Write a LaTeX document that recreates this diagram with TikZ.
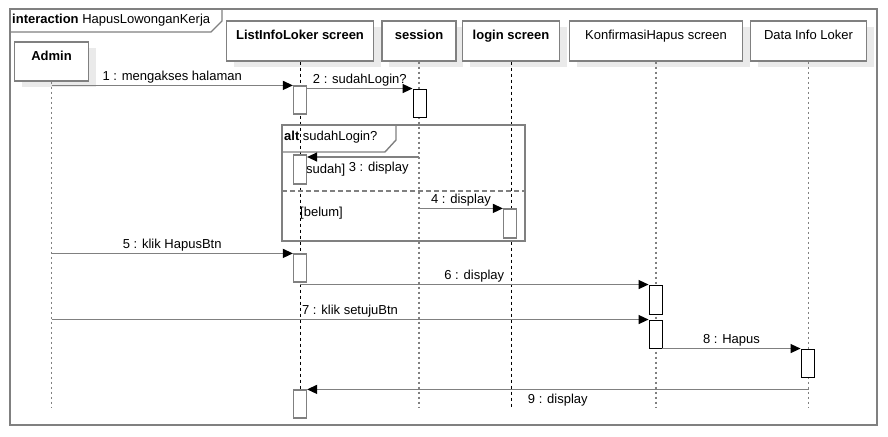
\documentclass[tikz,border=0pt]{standalone}
\usepackage{fontspec}
\setmainfont{Liberation Sans}
\usetikzlibrary{arrows.meta,shadows,positioning}

\definecolor{umlgray}{RGB}{128,128,128}
\definecolor{umlshadow}{RGB}{234,234,234}
\newcommand{\umlfont}{\fontsize{13}{15}\selectfont}

\tikzset{
	head/.style={draw=umlgray, line width=1.3pt, fill=white, minimum height=40pt,
		text height=10pt, text depth=13pt, inner xsep=0pt, font=\umlfont,
		drop shadow={shadow xshift=7pt, shadow yshift=-6pt, fill=umlshadow, opacity=1}},
	boldhead/.style={head, font=\umlfont\bfseries},
	act/.style={draw=umlgray, line width=1.2pt, fill=white, minimum width=13pt, inner sep=0pt},
	actk/.style={act, draw=black, line width=0.9pt},
	msg/.style={draw=umlgray, line width=1.3pt, -{Triangle[length=10pt,width=9pt,color=black]}},
	lifedot/.style={umlgray, line width=1.3pt, dash pattern=on 2.5pt off 2.5pt},
	lifedash/.style={black, line width=0.8pt, dash pattern=on 3pt off 3pt},
	frm/.style={umlgray, line width=1.4pt},
	up/.style={above, inner sep=1.5pt},
	down/.style={below=3pt, inner sep=1.5pt}
}

\begin{document}
\begin{tikzpicture}[x=1pt, y=-1pt, font=\umlfont]
		\useasboundingbox (0,0) rectangle (888,436);
		% frame
		\draw[frm] (10,9) rectangle (877,425);
		\draw[frm] (10,32) -- (211,32) -- (222,21) -- (222,9);
		\node[anchor=west, inner sep=0pt] (title) at (12,20) {\textbf{interaction} HapusLowonganKerja};
		
		% heads
		\node[boldhead, minimum width=74pt, minimum height=39pt] (admin) at (51.5,61.5) {Admin};
		\node[boldhead, minimum width=147pt] (list) at (300,41) {ListInfoLoker screen};
		\node[boldhead, minimum width=74pt] (sess) at (419,41) {session};
		\node[boldhead, minimum width=97pt] (login) at (511,41) {login screen};
		\node[head, minimum width=173pt] (konf) at (656,41) {KonfirmasiHapus screen};
		\node[head, minimum width=116pt] (data) at (808.5,41) {Data Info Loker};
		
		% lifelines
		\coordinate (end) at (0,407);
		\draw[lifedot] (admin.south) -- (admin.south |- end);
		\draw[lifedash] (list.south) -- (list.south |- end);
		\draw[lifedot] (sess.south) -- (sess.south |- end);
		\draw[lifedash] (login.south) -- (login.south |- end);
		\draw[lifedot] (konf.south) -- (konf.south |- end);
		\draw[lifedot] (data.south) -- (data.south |- end);
		
		% alt fragment
		\draw[frm] (282,125) rectangle (525,241);
		\draw[frm] (282,152) -- (385,152) -- (396,140) -- (396,125);
		\node[anchor=west, inner sep=0pt] (alt) at (284,137) {\textbf{alt} sudahLogin?};
		\draw[frm, dash pattern=on 5pt off 3pt] (282,191) -- (525,191);
		\node[anchor=west, inner sep=0pt] (sudah) at (306,170) {sudah]};
		\node[anchor=west, inner sep=0pt] (belum) at (300,213) {[belum]};
		
		% activations
		\node[act, minimum height=28pt] (a1) at (300,100) {};
		\node[actk, minimum height=28pt] (a2) at (419.5,103) {};
		\node[act, minimum height=29pt] (a3) at (300,169.5) {};
		\node[act, minimum height=29pt] (a4) at (510,223.5) {};
		\node[act, minimum height=28pt] (a5) at (300,268) {};
		\node[actk, minimum height=29pt] (a6) at (655.5,299.5) {};
		\node[actk, minimum height=28pt] (a7) at (655.5,334) {};
		\node[actk, minimum height=28pt] (a8) at (807.5,363) {};
		\node[act, minimum height=28pt] (a9) at (300,404) {};
		
		% messages
		\draw[msg] (admin.south |- a1.north) -- (a1.north west)
		node[midway, up] {1 : mengakses halaman};
		\draw[msg] (a1.east |- a2.north) -- (a2.north west)
		node[midway, up] {2 : sudahLogin?};
		\coordinate (m3) at (0,157);
		\draw[msg] (sess.south |- m3) -- (a3.east |- m3)
		node[pos=0.36, down] {3 : display};
		\draw[msg] (sess.south |- a4.north) -- (a4.north west)
		node[midway, up] {4 : display};
		\draw[msg] (admin.south |- a5.north) -- (a5.north west)
		node[midway, up] {5 : klik HapusBtn};
		\draw[msg] (list.south |- a6.north) -- (a6.north west)
		node[midway, up] {6 : display};
		\draw[msg] (admin.south |- a7.north) -- (a7.north west)
		node[midway, up] {7 : klik setujuBtn};
		\draw[msg] (a7.east |- a8.north) -- (a8.north west)
		node[midway, up] {8 : Hapus};
		\draw[msg] (data.south |- a9.north) -- (a9.north east)
		node[midway, down] {9 : display};
		
	\end{tikzpicture}
\end{document}
